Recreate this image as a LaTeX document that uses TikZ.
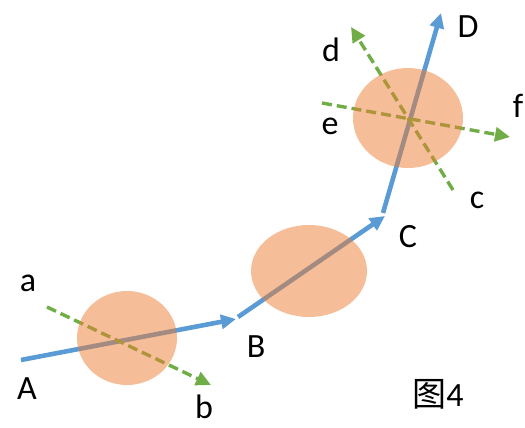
\documentclass[tikz,border=0pt]{standalone}
\usepackage{fontspec}
\setmainfont{Carlito}
\newfontfamily\cjkfont{Noto Sans CJK SC}
\usetikzlibrary{arrows.meta}
\definecolor{flowblue}{HTML}{5B9BD5}
\definecolor{axisgreen}{HTML}{70AD47}
\definecolor{blobfill}{HTML}{ED7D31}
\tikzset{
  flow/.style={draw=flowblue, line width=4.6pt, -{Triangle[length=15pt,width=14pt]}},
  axis/.style={draw=axisgreen, line width=3.4pt, dash pattern=on 10pt off 5pt, -{Triangle[length=15pt,width=14pt]}},
  blob/.style={fill=blobfill, fill opacity=0.5, draw=none},
  lbl/.style={font=\fontsize{34}{40}\selectfont, inner sep=0pt},
}
\begin{document}
\begin{tikzpicture}[x=1pt,y=-1pt]
\useasboundingbox (0,0) rectangle (525,428);
% points
\coordinate (pA) at (21,360);
\coordinate (pB1) at (236,319);
\coordinate (pB2) at (238,317);
\coordinate (pC1) at (385,216);
\coordinate (pC2) at (383,213);
\coordinate (pD) at (441,13);
\coordinate (pa) at (47,307);
\coordinate (pb) at (211,385);
\coordinate (pc) at (453,190);
\coordinate (pd) at (351,27);
\coordinate (pe) at (322,103);
\coordinate (pf) at (510,137);
% connectors
\draw[flow] (pA) -- (pB1);
\draw[flow] (pB2) -- (pC1);
\draw[flow] (pC2) -- (pD);
\draw[axis] (pa) -- (pb);
\draw[axis] (pc) -- (pd);
\draw[axis] (pe) -- (pf);
% blobs
\fill[blob] (127,338) ellipse [x radius=50, y radius=47];
\fill[blob] (309,271) ellipse [x radius=58, y radius=46];
\fill[blob] (408,118) ellipse [x radius=55, y radius=50];
% labels
\node[lbl] (la) at (28,283) {a};
\node[lbl] (lA) at (27,389) {A};
\node[lbl] (lb) at (204,407) {b};
\node[lbl] (lB) at (256,347) {B};
\node[lbl] (lC) at (408,237) {C};
\node[lbl] (lD) at (468,27) {D};
\node[lbl] (ld) at (331,50) {d};
\node[lbl] (le) at (330,126) {e};
\node[lbl] (lf) at (518,106) {f};
\node[lbl] (lc) at (477,200) {c};
\node[lbl] (cap) at (438,394) {{\cjkfont 图}4};
\end{tikzpicture}
\end{document}
